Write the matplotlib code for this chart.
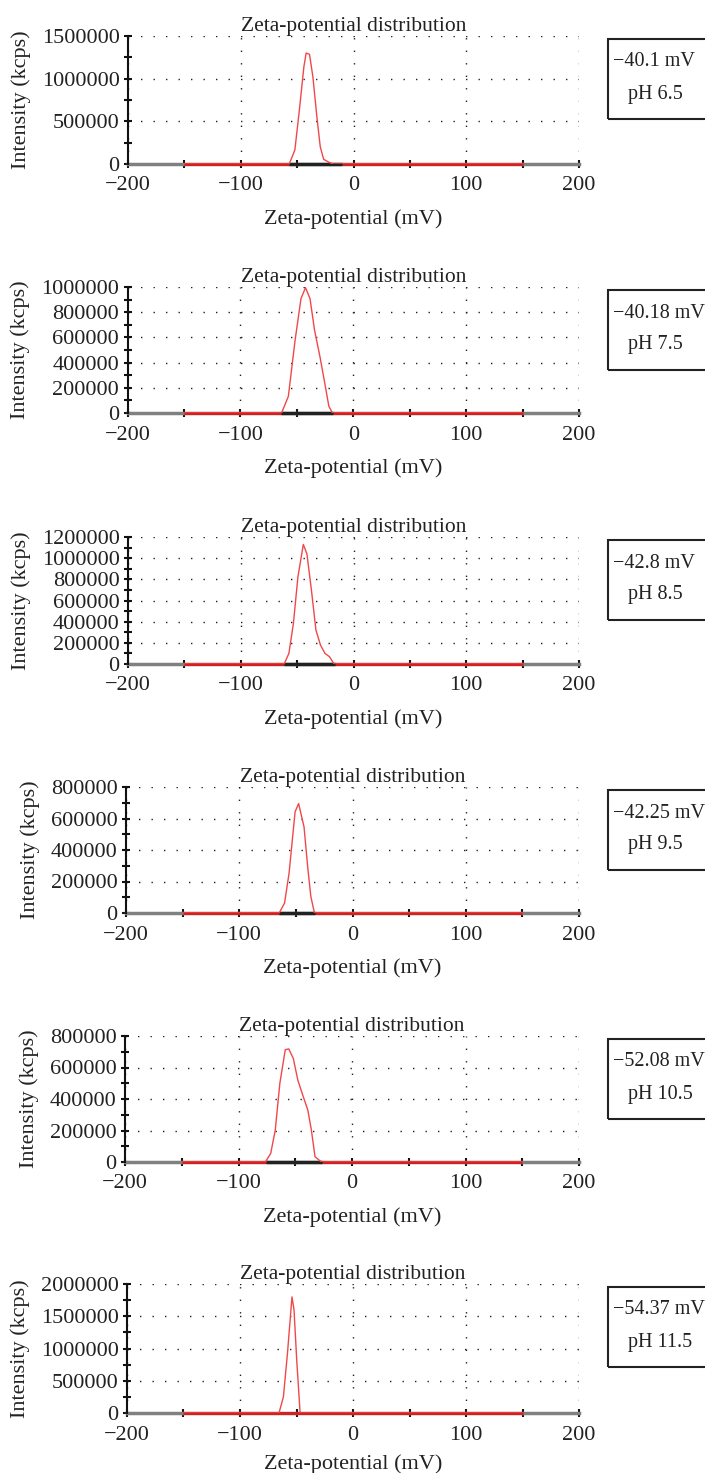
import matplotlib
matplotlib.use("Agg")
import matplotlib.pyplot as plt
from matplotlib.ticker import MultipleLocator, FuncFormatter
from matplotlib.patches import Rectangle

plt.rcParams['font.family'] = ['Liberation Serif', 'DejaVu Serif']
plt.rcParams['axes.unicode_minus'] = True

# zeta potential (mV) / intensity (kcps)
zeta_65 = [-150, -57, -52, -48, -44, -42, -39, -36, -32.5, -29.5, -26.5, -21, -18, 150]
inten_65 = [0, 0, 164000, 633000, 1140000, 1300000, 1285000, 1020000, 555000, 203000, 55000, 15000, 0, 0]

zeta_75 = [-150, -63.5, -57.5, -51.5, -46.3, -42.3, -38.3, -34.3, -29.5, -24.7, -21.6, -18.4, 150]
inten_75 = [0, 0, 132000, 579000, 908000, 995000, 908000, 658000, 447000, 210000, 53000, 0, 0]

zeta_85 = [-150, -61.5, -57.3, -53.3, -49.3, -44.5, -41.3, -37.3, -33.3, -29.3, -25.3, -21.3, -17.3, 150]
inten_85 = [0, 0, 100000, 383000, 823000, 1130000, 1040000, 697000, 320000, 179000, 100000, 69000, 0, 0]

zeta_95 = [-150, -64.7, -60, -56, -52, -50.7, -47.6, -42.8, -39.6, -36.8, -33.6, 150]
inten_95 = [0, 0, 63000, 253000, 547000, 642000, 695000, 547000, 295000, 105000, 0, 0]

zeta_105 = [-150, -76.3, -71.6, -67.6, -63.6, -58.8, -55.7, -51.7, -47.7, -42.9, -38.9, -35.8, -32.6, -27, 150]
inten_105 = [0, 0, 55000, 203000, 498000, 713000, 718000, 657000, 519000, 414000, 329000, 203000, 34000, 0, 0]

zeta_115 = [-150, -65.5, -61.6, -58, -54, -52.2, -49.8, -46.8, 150]
inten_115 = [0, 0, 249000, 925000, 1800000, 1600000, 821000, 0, 0]

zetas = [zeta_65, zeta_75, zeta_85, zeta_95, zeta_105, zeta_115]
intens = [inten_65, inten_75, inten_85, inten_95, inten_105, inten_115]
mean_zeta = ['−40.1 mV', '−40.18 mV', '−42.8 mV', '−42.25 mV', '−52.08 mV', '−54.37 mV']
ph_labels = ['pH 6.5', 'pH 7.5', 'pH 8.5', 'pH 9.5', 'pH 10.5', 'pH 11.5']
y_max = [1500000, 1000000, 1200000, 800000, 800000, 2000000]
y_step = [500000, 200000, 200000, 200000, 200000, 500000]
dark_span = [(-57, -10), (-64, -18), (-62, -16), (-65, -33), (-76, -26), None]

W, H = 705, 1473
fig = plt.figure(figsize=(W / 100, H / 100), dpi=100)

# pixel geometry of the panels (left, top, bottom)
lefts = [128, 127.5, 128, 126, 125, 127]
tops = [36, 287, 537, 787, 1036, 1284]
bottoms = [164, 413, 664, 913, 1162, 1413]
right = 579

fs = 16
txt = '#222222'
for i in range(6):
    l, t, b = lefts[i], tops[i], bottoms[i]
    ax = fig.add_axes([l / W, 1 - b / H, (right - l) / W, (b - t) / H])
    ax.set_xlim(-200, 200)
    ax.set_ylim(0, y_max[i])

    x, y = zetas[i], intens[i]
    ax.plot([x[0], x[-1]], [0, 0], color='#d42020', lw=2.2, zorder=3,
            solid_capstyle='butt', clip_on=False)
    if dark_span[i] is not None:
        ax.plot(dark_span[i], [0, 0], color='#222222', lw=2.4, zorder=4,
                solid_capstyle='butt', clip_on=False)
    ax.plot(x, y, color='#f04848', lw=1.0, zorder=5)

    ax.xaxis.set_major_locator(MultipleLocator(100))
    ax.xaxis.set_minor_locator(MultipleLocator(50))
    ax.yaxis.set_major_locator(MultipleLocator(y_step[i]))
    ax.yaxis.set_minor_locator(MultipleLocator(y_step[i] / 2))
    ax.tick_params(which='both', direction='inout', length=6, width=1.5, color='#111111',
                   labelsize=fs, labelcolor=txt)
    ax.tick_params(axis='x', pad=6)
    ax.tick_params(axis='y', pad=3)
    ax.yaxis.set_major_formatter(FuncFormatter(lambda v, p: f'{int(v)}'))

    ax.grid(True, which='major', color='#222222', lw=1.0, linestyle=(0, (1, 8)))
    for s in ['top', 'right']:
        ax.spines[s].set_visible(False)
    ax.spines['left'].set_color('#111111')
    ax.spines['left'].set_linewidth(1.5)
    ax.spines['bottom'].set_color('#808080')
    ax.spines['bottom'].set_linewidth(2.5)
    ax.spines['bottom'].set_zorder(2)

    ax.set_title('Zeta-potential distribution', fontsize=15.5, pad=3, color=txt)
    ax.set_xlabel('Zeta-potential (mV)', fontsize=fs, labelpad=10 if i < 5 else 7, color=txt)
    ax.set_ylabel('Intensity (kcps)', fontsize=fs, labelpad=8, color=txt)

    # annotation box on the right
    box = Rectangle((608 / W, 1 - (t + 83) / H), 120 / W, 80 / H, transform=fig.transFigure,
                    fill=False, edgecolor='#222222', lw=1.5, clip_on=False)
    fig.patches.append(box)
    fig.text(613 / W, 1 - (t + 26) / H, mean_zeta[i], ha='left', va='center', fontsize=14.5,
             color=txt)
    fig.text(628 / W, 1 - (t + 58) / H, ph_labels[i], ha='left', va='center', fontsize=14.5,
             color=txt)

fig.savefig('out.png', dpi=100)
